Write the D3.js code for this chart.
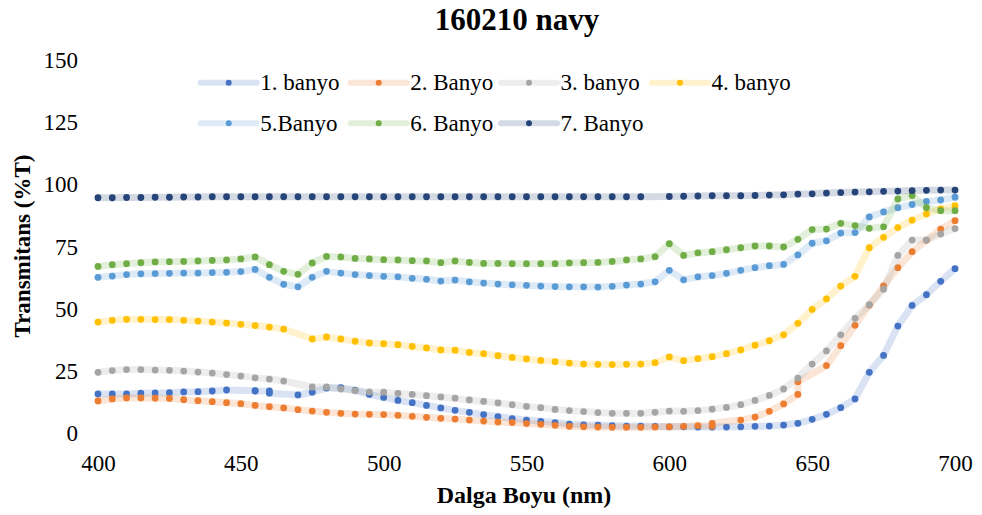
<!DOCTYPE html>
<html>
<head>
<meta charset="utf-8">
<script src="https://cdn.jsdelivr.net/npm/d3@7/dist/d3.min.js"></script>
<style>
  html, body { margin: 0; padding: 0; background: #fff; }
  svg { display: block; font-family: "Liberation Serif", "Times New Roman", serif; }
</style>
</head>
<body>
<svg id="chart" width="982" height="515"></svg>
<script>
// Wavelengths (nm) shared by every bath series
const wavelengths = [400,405,410,415,420,425,430,435,440,445,450,455,460,465,470,475,480,485,490,495,
  500,505,510,515,520,525,530,535,540,545,550,555,560,565,570,575,580,585,590,595,
  600,605,610,615,620,625,630,635,640,645,650,655,660,665,670,675,680,685,690,695,700];

const xTicks = [400, 450, 500, 550, 600, 650, 700];
const yTicks = [0, 25, 50, 75, 100, 125, 150];

const seriesNames = ["1. banyo", "2. Banyo", "3. banyo", "4. banyo", "5.Banyo", "6. Banyo", "7. Banyo"];
const seriesColors = ["#4472C4", "#ED7D31", "#A5A5A5", "#FFC000", "#5B9BD5", "#70AD47", "#264478"];

// Transmittance (%T) per bath; null = no reading at that wavelength
const banyo1 = [15.7,15.7,15.7,16.0,16.1,16.2,16.5,16.6,16.9,17.3,17.0,16.9,16.9,16.0,15.3,16.4,18.1,18.2,17.2,15.5,
  14.3,13.1,12.2,11.1,10.1,9.1,8.3,7.4,6.6,5.8,5.2,4.7,4.2,3.6,3.3,3.2,3.0,2.8,2.8,2.7,
  2.5,2.5,2.4,2.4,2.4,2.5,2.7,2.8,3.2,3.9,5.5,7.5,10.2,13.7,24.4,31.2,43.0,51.3,55.6,61.0,66.1];
const banyo2 = [12.9,13.7,14.1,14.1,14.0,13.9,13.4,13.0,12.6,12.2,11.8,11.1,10.6,10.1,9.4,8.8,8.3,7.9,7.6,7.5,
  7.4,7.1,6.7,6.3,5.9,5.6,5.2,4.8,4.4,4.2,3.8,3.5,3.1,2.7,2.5,2.4,2.3,2.3,2.3,2.4,
  2.5,2.7,3.0,2.8,3.9,5.2,6.4,8.7,11.7,15.5,20.6,27.1,35.1,43.3,51.4,59.2,66.5,72.9,77.5,82.0,85.4];
const banyo3 = [24.4,25.1,25.5,25.5,25.3,25.2,24.9,24.5,24.1,23.5,22.9,22.2,21.7,20.9,null,18.5,18.5,17.7,17.0,16.5,
  16.4,15.9,15.5,15.0,14.5,14.0,13.3,12.7,12.1,11.4,10.7,10.2,9.5,9.0,8.6,8.2,7.9,7.9,7.9,8.3,
  8.8,8.7,9.0,9.6,10.3,11.4,13.1,15.1,17.7,22.1,27.7,33.0,39.5,46.1,51.6,57.8,71.4,77.6,77.6,80.0,82.2];
const banyo4 = [44.6,45.3,45.7,45.7,45.6,45.6,45.3,45.0,44.6,44.2,43.7,43.2,42.6,41.8,null,37.8,38.6,37.8,36.9,36.2,
  35.9,35.5,34.8,34.2,33.4,33.3,32.4,31.9,31.1,30.4,29.8,29.2,28.7,28.1,27.7,27.6,27.5,27.6,27.7,28.3,
  30.6,29.1,29.9,30.7,31.9,33.4,35.3,37.1,39.5,44.1,49.7,53.9,59.1,63.0,74.5,78.7,82.6,85.6,88.1,90.1,91.4];
const banyo5 = [62.6,63.1,63.7,64.0,64.1,64.2,64.3,64.3,64.5,64.6,64.9,65.8,62.6,59.8,58.8,62.6,65.0,64.3,63.7,63.3,
  63.0,62.8,62.2,61.8,61.1,61.5,60.8,60.3,59.9,59.6,59.4,59.1,58.9,58.8,58.8,58.7,59.0,59.5,59.9,60.8,
  65.4,61.6,62.8,63.3,64.2,65.4,66.5,67.3,67.8,71.6,76.3,77.3,80.4,80.6,86.9,88.9,90.6,91.9,93.1,93.7,94.8];
const banyo6 = [67.0,67.7,68.1,68.5,68.8,68.9,69.0,69.2,69.4,69.6,70.0,70.8,67.7,65.0,63.8,68.4,71.0,70.8,70.2,70.0,
  69.7,69.6,69.3,69.2,68.5,69.2,68.6,68.2,68.2,68.1,68.1,68.1,68.1,68.4,68.5,68.6,69.0,69.6,70.0,70.9,
  76.1,71.4,72.4,72.9,73.7,74.5,75.2,75.2,74.8,77.9,81.8,82.0,84.3,83.4,82.3,82.9,94.1,95.5,90.6,89.4,89.4];
const banyo7 = [94.6,94.6,94.7,94.7,94.8,94.8,94.9,94.9,95.0,95.0,95.0,95.0,95.0,95.0,95.0,95.0,95.0,95.0,95.0,95.0,
  95.0,95.0,95.0,95.0,95.0,95.0,95.0,95.0,95.0,95.0,95.0,95.0,95.0,95.0,95.0,95.0,95.0,95.0,95.0,null,
  95.1,95.2,95.3,95.4,95.4,95.4,95.5,95.7,95.8,96.1,96.2,96.5,96.7,96.9,97.0,97.2,97.3,97.5,97.6,97.7,97.7];

// Readings that were logged against a neighbouring wavelength
const banyo1Recorded = {450: 455, 465: 460};
const banyo2Recorded = {620: 615, 650: 645};

const seriesValues = [banyo1, banyo2, banyo3, banyo4, banyo5, banyo6, banyo7];
const seriesRecorded = [banyo1Recorded, banyo2Recorded, {}, {}, {}, {}, {}];

const svg = d3.select("#chart");
const x = d3.scaleLinear().domain([400, 700]).range([98, 955]);
const y = d3.scaleLinear().domain([0, 150]).range([433, 60]);

const font = '"Liberation Serif", "Times New Roman", serif';

// Title
svg.append("text")
  .attr("x", 517).attr("y", 30)
  .attr("text-anchor", "middle")
  .attr("font-size", 31).attr("font-weight", "bold")
  .attr("fill", "#000")
  .text("160210 navy");

// Y axis labels (no axis line)
const yAxis = d3.axisLeft(y).tickValues(yTicks).tickSize(0).tickPadding(0);
const yG = svg.append("g").attr("transform", "translate(78,0)").call(yAxis);
yG.select(".domain").remove();
yG.selectAll("text").attr("font-size", 23).attr("font-family", font).attr("fill", "#000").attr("dy", "0.33em");

// X axis labels
const xAxis = d3.axisBottom(x).tickValues(xTicks).tickSize(0).tickPadding(0);
const xG = svg.append("g").attr("transform", "translate(0,459)").call(xAxis);
xG.select(".domain").remove();
xG.selectAll("text").attr("font-size", 23).attr("font-family", font).attr("fill", "#000").attr("dy", "0.5em");

// Axis titles
svg.append("text")
  .attr("transform", "translate(30,246) rotate(-90)")
  .attr("text-anchor", "middle")
  .attr("font-size", 23).attr("font-weight", "bold")
  .text("Transmitans (%T)");
svg.append("text")
  .attr("x", 524).attr("y", 503)
  .attr("text-anchor", "middle")
  .attr("font-size", 24).attr("font-weight", "bold")
  .text("Dalga Boyu (nm)");

// Series: wide translucent line, then round markers
const line = d3.line().x(d => x(d.x)).y(d => y(d.y));
const plot = svg.append("g");
seriesValues.forEach((vals, i) => {
  const rec = seriesRecorded[i];
  const pts = wavelengths.map((w, j) => ({x: rec[w] !== undefined ? rec[w] : w, y: vals[j]}))
    .filter(d => d.y !== null);
  const g = plot.append("g");
  g.append("path")
    .datum(pts)
    .attr("d", line)
    .attr("fill", "none")
    .attr("stroke", seriesColors[i])
    .attr("stroke-opacity", 0.2)
    .attr("stroke-width", 7)
    .attr("stroke-linejoin", "round")
    .attr("stroke-linecap", "round");
  g.selectAll("circle")
    .data(pts)
    .join("circle")
    .attr("cx", d => x(d.x))
    .attr("cy", d => y(d.y))
    .attr("r", 3.4)
    .attr("fill", seriesColors[i]);
});

// Legend, two rows
const legendPos = [[200.7, 82.7], [350.7, 82.7], [501, 82.7], [652, 82.7],
                   [200.7, 123.3], [350.7, 123.3], [501, 123.3]];
const legend = svg.append("g");
seriesNames.forEach((name, i) => {
  const [lx, ly] = legendPos[i];
  const item = legend.append("g").attr("transform", `translate(${lx},${ly})`);
  item.append("line")
    .attr("x1", 0).attr("x2", 56).attr("y1", 0).attr("y2", 0)
    .attr("stroke", seriesColors[i]).attr("stroke-opacity", 0.2)
    .attr("stroke-width", 6).attr("stroke-linecap", "round");
  item.append("circle").attr("cx", 28).attr("cy", 0).attr("r", 3).attr("fill", seriesColors[i]);
  item.append("text")
    .attr("x", 59.5).attr("y", 0).attr("dy", "0.33em")
    .attr("font-size", 23).attr("fill", "#000")
    .text(name);
});
</script>
</body>
</html>
